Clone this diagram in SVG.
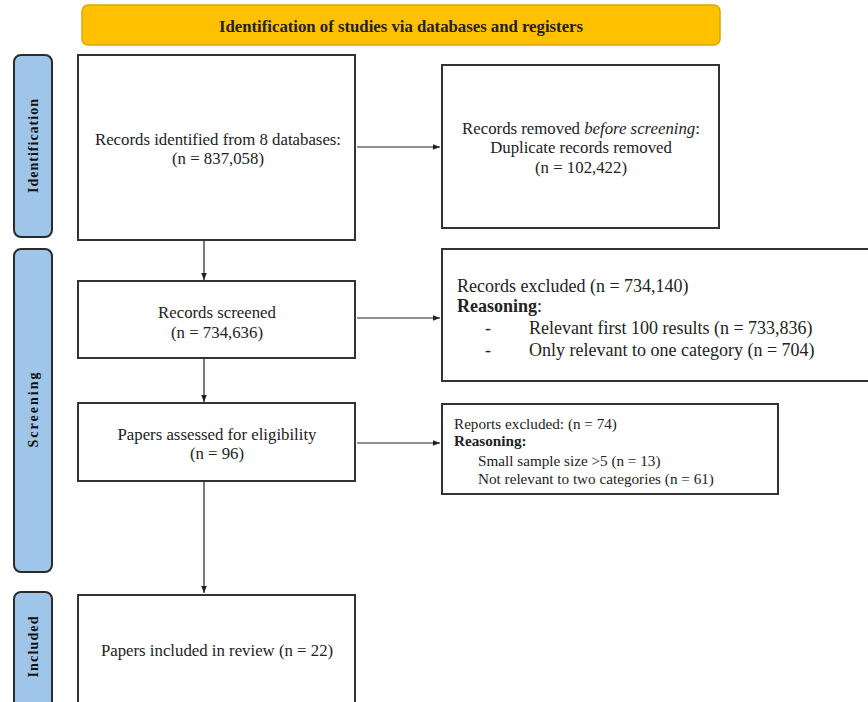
<svg xmlns="http://www.w3.org/2000/svg" width="868" height="702" viewBox="0 0 868 702">
<style>
.box{fill:#fff;stroke:#333;stroke-width:2}
.bar{fill:#9fc5e8;stroke:#2b2b2b;stroke-width:2}
.t{font-family:"Liberation Serif","Times New Roman",serif;fill:#222}
.c{text-anchor:middle;font-size:16.8px}
.lbl{font-family:"Liberation Serif","Times New Roman",serif;font-weight:bold;font-size:14px;text-anchor:middle;fill:#111}
.conn{stroke:#222;stroke-width:1.2;fill:none;marker-end:url(#ah)}
</style>
<defs>
<marker id="ah" viewBox="0 0 10 10" refX="10" refY="5" markerWidth="7" markerHeight="7" markerUnits="userSpaceOnUse" orient="auto">
<path d="M0,1 L10,5 L0,9 z" fill="#222"/>
</marker>
</defs>
<rect width="868" height="702" fill="#fff"/>
<g id="header">
<rect x="82" y="5" width="638" height="40" rx="6" fill="#ffc000" stroke="#d9a800" stroke-width="1.5"/>
<text class="t" x="401" y="32" text-anchor="middle" font-weight="bold" font-size="16" textLength="364" lengthAdjust="spacingAndGlyphs">Identification of studies via databases and registers</text>
</g>
<g id="bar-identification">
<rect class="bar" x="14" y="55" width="38" height="182" rx="7"/>
<text class="lbl" transform="translate(38,146) rotate(-90)" textLength="94" lengthAdjust="spacing">Identification</text>
</g>
<g id="bar-screening">
<rect class="bar" x="14" y="249" width="38" height="323" rx="7"/>
<text class="lbl" transform="translate(38,410) rotate(-90)" textLength="75" lengthAdjust="spacing">Screening</text>
</g>
<g id="bar-included">
<rect class="bar" x="14" y="592" width="38" height="118" rx="7"/>
<text class="lbl" transform="translate(38,647) rotate(-90)" textLength="61" lengthAdjust="spacing">Included</text>
</g>
<g id="records-identified">
<rect class="box" x="78" y="55" width="277" height="185"/>
<text class="t c" x="218" y="145">Records identified from 8 databases:</text>
<text class="t c" x="218" y="164">(n = 837,058)</text>
</g>
<g id="records-removed">
<rect class="box" x="442" y="65" width="277" height="163"/>
<text class="t c" x="581" y="134">Records removed <tspan font-style="italic">before screening</tspan>:</text>
<text class="t c" x="581" y="153">Duplicate records removed</text>
<text class="t c" x="581" y="173">(n = 102,422)</text>
</g>
<g id="records-screened">
<rect class="box" x="78" y="281" width="277" height="77"/>
<text class="t c" x="217" y="318">Records screened</text>
<text class="t c" x="217" y="338">(n = 734,636)</text>
</g>
<g id="records-excluded">
<rect class="box" x="442" y="249" width="432" height="132"/>
<text class="t" x="457" y="292" font-size="18">Records excluded (n = 734,140)</text>
<text class="t" x="457" y="312" font-size="18"><tspan font-weight="bold">Reasoning</tspan>:</text>
<text class="t" x="485" y="334" font-size="18">-</text>
<text class="t" x="529" y="334" font-size="18">Relevant first 100 results (n = 733,836)</text>
<text class="t" x="485" y="356" font-size="18">-</text>
<text class="t" x="529" y="356" font-size="18">Only relevant to one category (n = 704)</text>
</g>
<g id="papers-assessed">
<rect class="box" x="78" y="403" width="277" height="78"/>
<text class="t c" x="217" y="440">Papers assessed for eligibility</text>
<text class="t c" x="217" y="459">(n = 96)</text>
</g>
<g id="reports-excluded">
<rect class="box" x="442" y="404" width="336" height="90"/>
<text class="t" x="454" y="429" font-size="15.2">Reports excluded: (n = 74)</text>
<text class="t" x="454" y="446" font-size="15.2" font-weight="bold">Reasoning:</text>
<text class="t" x="478" y="466" font-size="15.2">Small sample size &gt;5 (n = 13)</text>
<text class="t" x="478" y="484" font-size="15.2">Not relevant to two categories (n = 61)</text>
</g>
<g id="papers-included">
<rect class="box" x="78" y="595" width="277" height="120"/>
<text class="t c" x="217" y="656">Papers included in review (n = 22)</text>
</g>
<g id="connectors">
<line class="conn" x1="357" y1="147" x2="440" y2="147"/>
<line class="conn" x1="204" y1="241" x2="204" y2="280"/>
<line class="conn" x1="357" y1="318" x2="440" y2="318"/>
<line class="conn" x1="204" y1="359" x2="204" y2="402"/>
<line class="conn" x1="357" y1="443" x2="440" y2="443"/>
<line class="conn" x1="204" y1="482" x2="204" y2="593"/>
</g>
</svg>
